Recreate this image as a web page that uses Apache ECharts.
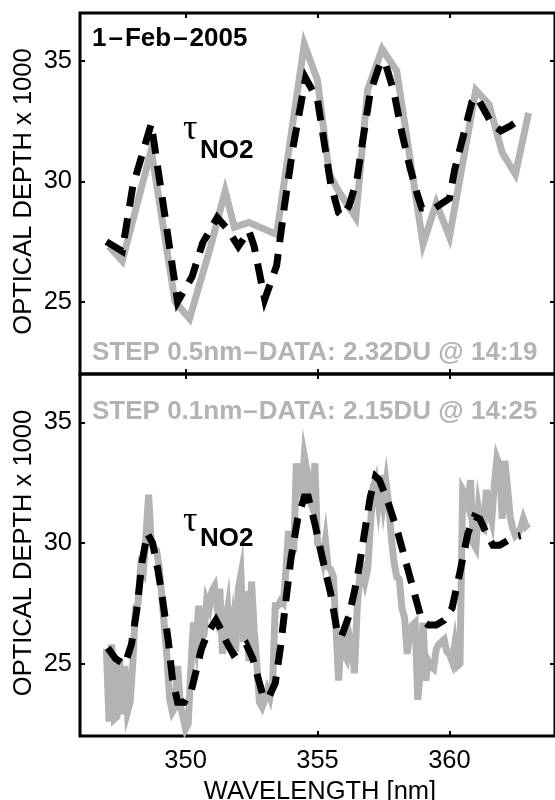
<!DOCTYPE html>
<html>
<head>
<meta charset="utf-8">
<script src="https://cdn.jsdelivr.net/npm/echarts@6/dist/echarts.min.js"></script>
<style>
  html, body { margin: 0; padding: 0; background: #fff; }
  #chart { width: 555px; height: 800px; }
</style>
</head>
<body>
<div id="chart"></div>
<script>
// ---- Axis ranges and tick marks ----
const xRange = [346, 364];
const yRange = [22, 37];
const xTicks = [350, 355, 360];
const yTicks = [25, 30, 35];

// ---- Upper panel: 0.5 nm step measurement (grey) and fit (black dashed) ----
const topMeasWl = [347.1, 347.6, 348.7, 349.6, 350.15, 350.95, 351.5, 351.85, 352.4, 353.45,
  354.5, 355.0, 355.45, 355.8, 356.45, 356.9, 357.45, 358.0, 359.0, 359.5,
  360.0, 361.0, 361.5, 362.0, 362.5, 363.0];
const topMeasOd = [27.3, 26.7, 31.3, 25.0, 24.3, 27.3, 29.6, 28.1, 28.3, 27.8,
  35.7, 34.2, 30.3, 29.6, 28.5, 33.8, 35.5, 34.6, 27.4, 29.1,
  27.7, 33.8, 33.2, 31.2, 30.3, 32.85];

const topFitWl = [347.0, 347.6, 348.0, 348.7, 349.7, 350.25, 350.65, 351.2, 351.6, 352.0,
  352.4, 352.6, 353.0, 353.45, 353.75, 354.07, 354.55, 355.0, 355.3, 355.5,
  355.8, 355.95, 356.2, 356.5, 356.7, 357.0, 357.4, 357.6, 357.9, 358.2,
  358.5, 358.8, 358.95, 359.45, 360.0, 360.2, 360.55, 360.85, 361.05, 361.3,
  361.6, 361.95, 362.3, 362.7];
const topFitOd = [27.5, 27.1, 29.8, 32.4, 25.0, 26.05, 27.45, 28.5, 28.0, 27.3,
  27.95, 27.3, 25.1, 26.5, 29.0, 31.4, 34.3, 33.4, 31.3, 29.9,
  28.7, 28.55, 29.0, 30.1, 31.6, 33.7, 35.0, 34.8, 33.7, 32.0,
  30.6, 29.4, 28.9, 28.9, 29.3, 30.5, 32.0, 33.3, 33.5, 33.0,
  32.4, 32.1, 32.3, 32.6];

// ---- Lower panel: 0.1 nm step measurement (grey) and fit (black dashed) ----
const bottomMeasWl = [
  347.0, 347.1, 347.2, 347.3, 347.4, 347.5, 347.6, 347.7, 347.8, 347.9,
  348.0, 348.1, 348.2, 348.3, 348.4, 348.5, 348.6, 348.7, 348.8, 348.9,
  349.0, 349.1, 349.2, 349.3, 349.4, 349.5, 349.6, 349.7, 349.8, 349.9,
  350.0, 350.1, 350.2, 350.3, 350.4, 350.5, 350.6, 350.7, 350.8, 350.9,
  351.0, 351.1, 351.2, 351.3, 351.4, 351.5, 351.6, 351.7, 351.8, 351.9,
  352.0, 352.1, 352.2, 352.3, 352.4, 352.5, 352.6, 352.7, 352.8, 352.9,
  353.0, 353.1, 353.2, 353.3, 353.4, 353.5, 353.6, 353.7, 353.8, 353.9,
  354.0, 354.1, 354.2, 354.3, 354.4, 354.5, 354.6, 354.7, 354.8, 354.9,
  355.0, 355.1, 355.2, 355.3, 355.4, 355.5, 355.6, 355.7, 355.8, 355.9,
  356.0, 356.1, 356.2, 356.3, 356.4, 356.5, 356.6, 356.7, 356.8, 356.9,
  357.0, 357.1, 357.2, 357.3, 357.4, 357.5, 357.6, 357.7, 357.8, 357.9,
  358.0, 358.1, 358.2, 358.3, 358.4, 358.5, 358.6, 358.7, 358.8, 358.9,
  359.0, 359.1, 359.2, 359.3, 359.4, 359.5, 359.6, 359.7, 359.8, 359.9,
  360.0, 360.1, 360.2, 360.3, 360.4, 360.5, 360.6, 360.7, 360.8, 360.9,
  361.0, 361.1, 361.2, 361.3, 361.4, 361.5, 361.6, 361.7, 361.8, 361.9,
  362.0, 362.1, 362.2, 362.3, 362.4, 362.5, 362.6, 362.7, 362.8, 362.9,
  363.0];
const bottomMeasOd = [
  25.6, 22.6, 25.8, 22.7, 22.8, 25.2, 22.9, 24.9, 23.0, 23.4,
  25.0, 27.3, 27.5, 29.0, 28.8, 30.3, 32.0, 30.0, 29.8, 29.7,
  29.0, 27.8, 26.5, 25.2, 23.5, 23.0, 23.2, 24.9, 23.3, 22.8,
  22.3, 22.5, 24.8, 26.7, 25.9, 27.4, 26.0, 26.2, 27.6, 27.3,
  28.0, 28.2, 27.3, 28.1, 25.4, 26.6, 27.3, 25.6, 26.6, 25.5,
  28.1, 28.7, 25.9, 28.0, 25.1, 28.4, 26.4, 25.0, 23.4, 23.2,
  23.5, 23.9, 23.6, 24.2, 27.4, 27.4, 27.6, 27.5, 28.8, 30.5,
  29.5, 29.7, 33.3, 32.2, 32.0, 33.6, 33.0, 31.8, 31.5, 33.3,
  30.0, 29.8, 29.3, 30.1, 29.0, 28.9, 28.6, 26.5, 24.3, 26.3,
  25.4, 25.2, 26.2, 25.7, 24.6, 27.2, 28.7, 28.9, 28.4, 28.9,
  30.6, 32.3, 32.6, 31.7, 32.8, 31.7, 32.5, 31.6, 30.2, 29.2,
  28.6, 28.5, 27.3, 26.9, 25.4, 26.3, 26.6, 26.7, 23.5, 24.7,
  26.7, 24.3, 25.1, 24.9, 24.8, 25.6, 25.8, 25.9, 26.0, 25.5,
  25.4, 25.1, 25.8, 24.9, 25.0, 32.2, 32.0, 31.6, 32.6, 30.0,
  29.8, 31.4, 30.7, 30.6, 32.2, 31.3, 30.9, 32.4, 33.5, 33.2,
  31.0, 33.4, 32.3, 31.1, 30.6, 30.3, 30.4, 30.6, 31.0, 30.7,
  30.8];

const bottomFitWl = [347.05, 347.35, 347.7, 347.95, 348.15, 348.35, 348.55, 348.75, 348.95, 349.15,
  349.35, 349.5, 349.7, 349.95, 350.2, 350.4, 350.6, 350.85, 351.15, 351.35,
  351.55, 351.8, 352.05, 352.3, 352.55, 352.75, 352.95, 353.15, 353.4, 353.6,
  353.8, 354.0, 354.25, 354.5, 354.65, 354.9, 355.2, 355.5, 355.75, 355.9,
  356.2, 356.5, 356.75, 357.0, 357.2, 357.35, 357.7, 358.05, 358.4, 358.7,
  358.95, 359.2, 359.5, 359.8, 360.1, 360.4, 360.7, 360.95, 361.15, 361.4,
  361.65, 361.9, 362.2, 362.5, 362.7];
const bottomFitOd = [25.65, 25.2, 24.95, 25.8, 27.2, 29.2, 30.4, 30.0, 28.9, 27.5,
  25.9, 24.4, 23.4, 23.4, 23.8, 24.7, 25.6, 26.3, 26.8, 26.4,
  25.9, 25.4, 25.6, 25.8, 25.2, 24.4, 23.6, 23.6, 24.2, 25.7,
  27.6, 29.4, 31.0, 31.9, 31.9, 30.8, 29.3, 27.9, 26.3, 26.1,
  27.0, 28.5, 30.2, 31.9, 32.75, 32.6, 31.6, 30.4, 29.0, 27.8,
  26.8, 26.6, 26.6, 26.8, 27.3, 28.8, 30.4, 31.1, 31.0, 30.4,
  29.9, 29.9, 30.1, 30.25, 30.3];

// ---- Text drawn on the figure ----
const dateText = '1{d|–}Feb{d|–}2005';
const topInfo = 'STEP 0.5nm{d|–}DATA: 2.32DU @ 14:19';
const bottomInfo = 'STEP 0.1nm{d|–}DATA: 2.15DU @ 14:25';
const yTitle = 'OPTICAL DEPTH x 1000';
const xTitle = 'WAVELENGTH [nm]';

const SANS = '"Liberation Sans", Arial, Helvetica, sans-serif';
const SERIF = '"Liberation Serif", "Times New Roman", serif';
const GREY = '#b3b3b3';
const FS = 25.5;

function pairs(xs, ys) { return xs.map((x, i) => [x, ys[i]]); }

const panels = [
  { top: 13, height: 361 },
  { top: 374, height: 362 }
];

function xAxisPair(gi, showLabels) {
  const base = {
    gridIndex: gi, type: 'value', min: xRange[0], max: xRange[1],
    axisLine: { show: false },
    splitLine: { show: false },
    axisTick: { show: true, inside: true, length: 5, customValues: xTicks,
      lineStyle: { color: '#000', width: 2 } }
  };
  return [
    Object.assign({}, base, { position: 'bottom',
      axisLabel: { show: showLabels, customValues: xTicks, color: '#000',
        fontSize: FS, fontFamily: SANS, margin: 12 } }),
    Object.assign({}, base, { position: 'top', axisLabel: { show: false } })
  ];
}

function yAxisPair(gi) {
  const base = {
    gridIndex: gi, type: 'value', min: yRange[0], max: yRange[1],
    axisLine: { show: false },
    splitLine: { show: false },
    axisTick: { show: true, inside: true, length: 5, customValues: yTicks,
      lineStyle: { color: '#000', width: 2 } }
  };
  return [
    Object.assign({}, base, { position: 'left',
      axisLabel: { show: true, customValues: yTicks, color: '#000',
        fontSize: FS, fontFamily: SANS, margin: 8 } }),
    Object.assign({}, base, { position: 'right', axisLabel: { show: false } })
  ];
}

function measSeries(xi, yi, data) {
  return { type: 'line', xAxisIndex: xi, yAxisIndex: yi, data: data,
    symbol: 'none', clip: false, z: 2,
    lineStyle: { color: GREY, width: 7, cap: 'butt', join: 'miter' } };
}
function fitSeries(xi, yi, data) {
  return { type: 'line', xAxisIndex: xi, yAxisIndex: yi, data: data,
    symbol: 'none', clip: false, z: 3,
    lineStyle: { color: '#000', width: 7, type: [20, 12], cap: 'butt', join: 'miter' } };
}

function infoText(y, text) {
  return { type: 'text', x: 92, y: y, z: 10,
    style: { text: text, fontSize: 26, fontWeight: 'bold', fontFamily: SANS, fill: GREY,
      align: 'left', verticalAlign: 'middle',
      rich: { d: { fontSize: 26, fontWeight: 'bold', fontFamily: SANS, color: GREY, padding: [0, 1] } } } };
}
function tauLabel(yTau, ySub) {
  return [
    { type: 'text', x: 183, y: yTau, z: 10,
      style: { text: 'τ', fontSize: 36, fontFamily: SERIF, fill: '#000', align: 'left', verticalAlign: 'middle' } },
    { type: 'text', x: 200, y: ySub, z: 10,
      style: { text: 'NO2', fontSize: 26, fontWeight: 'bold', fontFamily: SANS, fill: '#000', align: 'left', verticalAlign: 'middle' } }
  ];
}

const xAxes = xAxisPair(0, false).concat(xAxisPair(1, true));
const yAxes = yAxisPair(0).concat(yAxisPair(1));

const option = {
  animation: false,
  backgroundColor: '#fff',
  grid: panels.map(p => ({ left: 80, right: -4, top: p.top, height: p.height,
    show: true, borderColor: '#000', borderWidth: 3, backgroundColor: 'transparent' })),
  xAxis: xAxes,
  yAxis: yAxes,
  series: [
    measSeries(0, 0, pairs(topMeasWl, topMeasOd)),
    fitSeries(0, 0, pairs(topFitWl, topFitOd)),
    measSeries(2, 2, pairs(bottomMeasWl, bottomMeasOd)),
    fitSeries(2, 2, pairs(bottomFitWl, bottomFitOd))
  ],
  graphic: [
    { type: 'text', x: 92, y: 38.5, z: 10,
      style: { text: dateText, fontSize: 26, fontWeight: 'bold', fontFamily: SANS, fill: '#000',
        align: 'left', verticalAlign: 'middle',
        rich: { d: { fontSize: 26, fontWeight: 'bold', fontFamily: SANS, color: '#000', padding: [0, 2] } } } },
    infoText(352.5, topInfo),
    infoText(411.5, bottomInfo),
    ...tauLabel(130, 151),
    ...tauLabel(522, 538.5),
    { type: 'text', x: 24, y: 191.5, rotation: Math.PI / 2, z: 10,
      style: { text: yTitle, fontSize: FS, fontFamily: SANS, fill: '#000', align: 'center', verticalAlign: 'middle' } },
    { type: 'text', x: 24, y: 553, rotation: Math.PI / 2, z: 10,
      style: { text: yTitle, fontSize: FS, fontFamily: SANS, fill: '#000', align: 'center', verticalAlign: 'middle' } },
    { type: 'text', x: 320, y: 791.5, z: 10,
      style: { text: xTitle, fontSize: FS, fontFamily: SANS, fill: '#000', align: 'center', verticalAlign: 'middle' } }
  ]
};

const chart = echarts.init(document.getElementById('chart'), null, { renderer: 'canvas' });
chart.setOption(option);
</script>
</body>
</html>
